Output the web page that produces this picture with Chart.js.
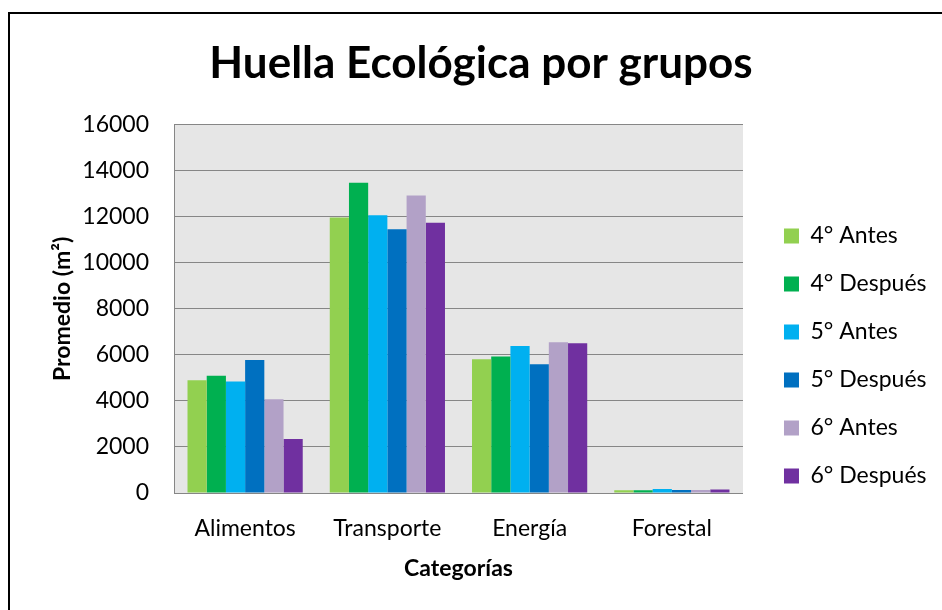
<!DOCTYPE html>
<html>
<head>
<meta charset="utf-8">
<script src="https://cdn.jsdelivr.net/npm/chart.js@4"></script>
<style>
  html, body { margin: 0; padding: 0; background: #fff; }
  #wrap { position: relative; width: 942px; height: 610px; }
  #frame { position: absolute; left: 8px; top: 12px; width: 934px; height: 598px;
           border-left: 2px solid #000; border-top: 2px solid #000; pointer-events: none; }
</style>
</head>
<body>
<div id="wrap">
  <canvas id="chart" width="942" height="610"></canvas>
  <div id="frame"></div>
</div>
<script>
const categories = ['Alimentos', 'Transporte', 'Energía', 'Forestal'];
const groups = ['4° Antes', '4° Después', '5° Antes', '5° Después', '6° Antes', '6° Después'];
const colors = ['#92d050', '#00b050', '#00b0f0', '#0070c0', '#b2a1c7', '#7030a0'];

const cuartoAntes = [4900, 11970, 5810, 120];
const cuartoDespues = [5100, 13480, 5930, 120];
const quintoAntes = [4840, 12070, 6390, 170];
const quintoDespues = [5780, 11460, 5590, 130];
const sextoAntes = [4070, 12930, 6550, 130];
const sextoDespues = [2350, 11740, 6510, 150];

const values = [cuartoAntes, cuartoDespues, quintoAntes, quintoDespues, sextoAntes, sextoDespues];
const FONT = 'Lato';

const plotBackground = {
    id: 'plotBackground',
    beforeDraw(chart) {
        const { ctx, chartArea: a } = chart;
        ctx.save();
        ctx.fillStyle = '#e6e6e6';
        ctx.fillRect(a.left, a.top, a.right - a.left, a.bottom - a.top);
        ctx.restore();
    },
};

new Chart(document.getElementById('chart'), {
    type: 'bar',
    data: {
        labels: categories,
        datasets: groups.map((g, i) => ({
            label: g,
            data: values[i],
            backgroundColor: colors[i],
            borderWidth: 0,
            barPercentage: 1,
            categoryPercentage: 0.81,
        })),
    },
    options: {
        responsive: false,
        animation: false,
        layout: { padding: { left: 25.5, right: 5.5, top: 0, bottom: 0 } },
        plugins: {
            title: {
                display: true,
                text: 'Huella Ecológica por grupos',
                color: '#000',
                font: { family: FONT, size: 44, weight: 'bold', lineHeight: 1.2 },
                padding: { top: 37, bottom: 35 },
            },
            legend: {
                position: 'right',
                align: 'start',
                maxWidth: 220,
                title: { display: true, text: '', font: { size: 1, lineHeight: 1 }, padding: { top: 198.5, bottom: 0 } },
                labels: {
                    color: '#000',
                    font: { family: FONT, size: 23 },
                    boxWidth: 15,
                    boxHeight: 15,
                    padding: 25,
                },
            },
            tooltip: { enabled: false },
        },
        scales: {
            x: {
                grid: { display: false, drawTicks: false },
                border: { display: true, color: '#868686', width: 1 },
                ticks: { color: '#000', font: { family: FONT, size: 23 }, padding: 22 },
                title: {
                    display: true,
                    text: 'Categorías',
                    color: '#000',
                    font: { family: FONT, size: 23, weight: 'bold' },
                    padding: { top: 0, bottom: 28 },
                },
                afterFit(scale) { scale.height = 117; },
            },
            y: {
                min: 0,
                max: 16000,
                grid: { color: '#868686', lineWidth: 1, drawTicks: false },
                border: { display: true, color: '#868686', width: 1 },
                ticks: {
                    stepSize: 2000,
                    color: '#000',
                    font: { family: FONT, size: 23 },
                    padding: 25,
                    callback: (v) => String(v),
                },
                title: {
                    display: true,
                    text: 'Promedio (m²)',
                    color: '#000',
                    font: { family: FONT, size: 23, weight: 'bold' },
                    padding: { top: 23, bottom: 0 },
                },
                afterFit(scale) { scale.width = 148.5; },
            },
            spacer: {
                position: 'right',
                display: true,
                grid: { display: false, drawTicks: false },
                border: { display: false },
                ticks: { display: false },
                afterFit(scale) { scale.width = 16; },
            },
        },
    },
    plugins: [plotBackground],
});
</script>
</body>
</html>
